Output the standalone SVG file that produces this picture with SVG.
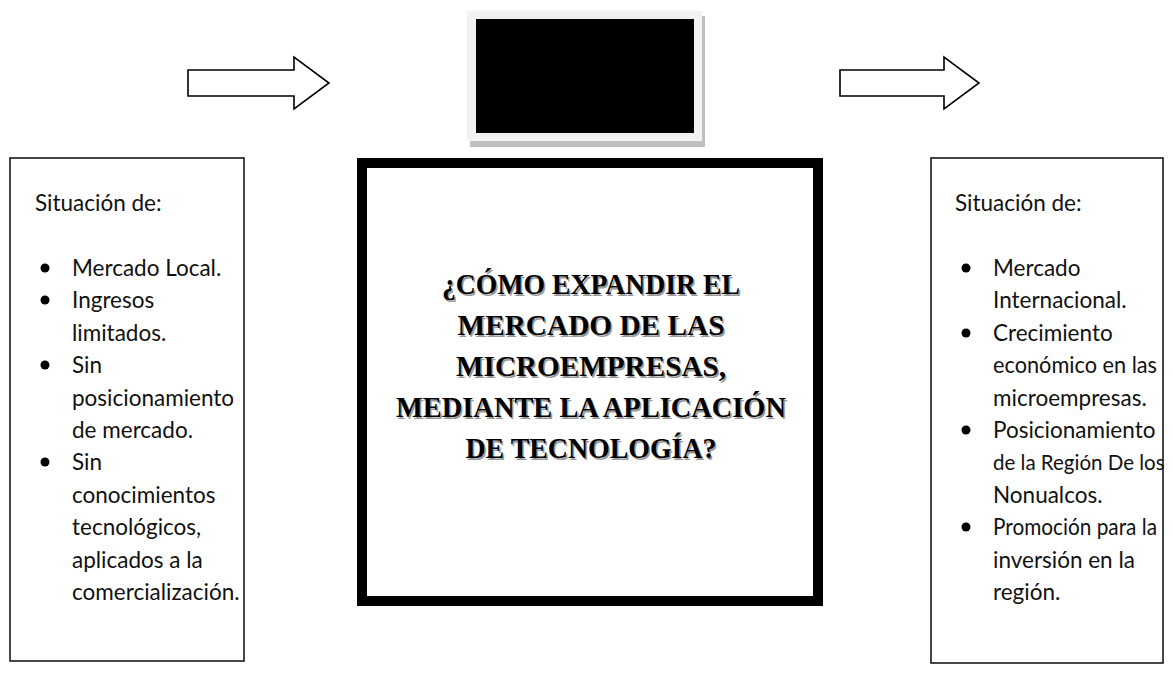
<svg xmlns="http://www.w3.org/2000/svg" width="1173" height="696" viewBox="0 0 1173 696">
<style>
.side{fill:#fff;stroke:#1a1a1a;stroke-width:1.6}
.arrow{fill:#fff;stroke:#000;stroke-width:1.6;stroke-linejoin:miter}
.t{font-family:Lato,"Open Sans",sans-serif;font-size:22.5px;fill:#111}
.q{font-family:"Liberation Serif","DejaVu Serif",serif;font-weight:bold;font-size:30px;text-anchor:middle}
.qs{fill:#9a9a9a}
.qf{fill:#000}
.b{fill:#000}
</style>
<rect width="1173" height="696" fill="#fff"/>
<g id="connectors">
<polygon class="arrow" points="188,70 294,70 294,57 329,83 294,109 294,96 188,96"/>
<polygon class="arrow" points="840,70 944,70 944,57 979,83 944,109 944,96 840,96"/>
</g>
<g id="image-box">
<rect x="470" y="16" width="235" height="131" fill="#c0c0c0"/>
<rect x="467" y="11" width="235" height="130" fill="#f2f2f2"/>
<rect x="476" y="19" width="218" height="114" fill="#000"/>
</g>
<g id="left-box">
<rect class="side" x="10" y="158" width="234" height="503"/>
<text class="t" x="35" y="211">Situación de:</text>
<circle class="b" cx="45" cy="268" r="4.5"/>
<circle class="b" cx="45" cy="300" r="4.5"/>
<circle class="b" cx="45" cy="365" r="4.5"/>
<circle class="b" cx="45" cy="462" r="4.5"/>
<text class="t" x="72" y="276">Mercado Local.</text>
<text class="t" x="72" y="308">Ingresos</text>
<text class="t" x="72" y="341">limitados.</text>
<text class="t" x="72" y="373">Sin</text>
<text class="t" x="72" y="406">posicionamiento</text>
<text class="t" x="72" y="438">de mercado.</text>
<text class="t" x="72" y="470">Sin</text>
<text class="t" x="72" y="503">conocimientos</text>
<text class="t" x="72" y="535">tecnológicos,</text>
<text class="t" x="72" y="568">aplicados a la</text>
<text class="t" x="72" y="600">comercialización.</text>
</g>
<g id="center-box">
<rect x="362" y="163" width="456" height="438" fill="#fff" stroke="#000" stroke-width="10"/>
<g class="q qs" transform="translate(1.5,1.5)">
<text x="591" y="294" textLength="298" lengthAdjust="spacingAndGlyphs">¿CÓMO EXPANDIR EL</text>
<text x="591" y="335" textLength="267" lengthAdjust="spacingAndGlyphs">MERCADO  DE LAS</text>
<text x="591" y="376" textLength="270" lengthAdjust="spacingAndGlyphs">MICROEMPRESAS,</text>
<text x="591" y="417" textLength="390" lengthAdjust="spacingAndGlyphs">MEDIANTE LA APLICACIÓN</text>
<text x="591" y="458" textLength="251" lengthAdjust="spacingAndGlyphs">DE TECNOLOGÍA?</text>
</g>
<g class="q qf">
<text x="591" y="294" textLength="298" lengthAdjust="spacingAndGlyphs">¿CÓMO EXPANDIR EL</text>
<text x="591" y="335" textLength="267" lengthAdjust="spacingAndGlyphs">MERCADO  DE LAS</text>
<text x="591" y="376" textLength="270" lengthAdjust="spacingAndGlyphs">MICROEMPRESAS,</text>
<text x="591" y="417" textLength="390" lengthAdjust="spacingAndGlyphs">MEDIANTE LA APLICACIÓN</text>
<text x="591" y="458" textLength="251" lengthAdjust="spacingAndGlyphs">DE TECNOLOGÍA?</text>
</g>
</g>
<g id="right-box">
<rect class="side" x="931" y="158" width="232" height="505"/>
<text class="t" x="955" y="211">Situación de:</text>
<circle class="b" cx="966" cy="268" r="4.5"/>
<circle class="b" cx="966" cy="333" r="4.5"/>
<circle class="b" cx="966" cy="430" r="4.5"/>
<circle class="b" cx="966" cy="527" r="4.5"/>
<text class="t" x="993" y="276">Mercado</text>
<text class="t" x="993" y="308">Internacional.</text>
<text class="t" x="993" y="341">Crecimiento</text>
<text class="t" x="993" y="373" textLength="164" lengthAdjust="spacingAndGlyphs">económico en las</text>
<text class="t" x="993" y="406">microempresas.</text>
<text class="t" x="993" y="438">Posicionamiento</text>
<text class="t" x="993" y="470" style="font-size:20.5px">de la Región De los</text>
<text class="t" x="993" y="503">Nonualcos.</text>
<text class="t" x="993" y="535" textLength="164" lengthAdjust="spacingAndGlyphs">Promoción  para la</text>
<text class="t" x="993" y="568">inversión en la</text>
<text class="t" x="993" y="600">región.</text>
</g>
</svg>
